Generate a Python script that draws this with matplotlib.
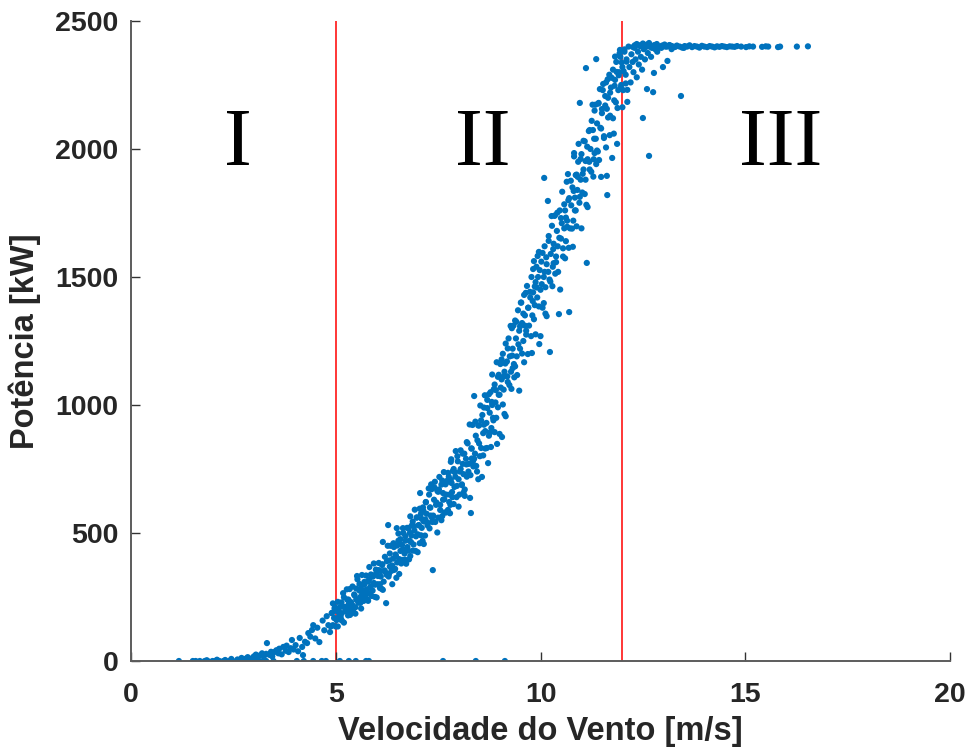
import matplotlib.pyplot as plt
import numpy as np

# wind speed [m/s] / power [kW] samples, split by part of the curve
zero_wind = [1.17, 1.51, 1.58, 1.68, 1.8, 1.87, 1.99, 2.05, 2.16, 2.26, 2.3, 2.4, 2.57,
             2.65, 2.72, 2.85, 2.94, 3.01, 3.1, 3.21, 3.3, 3.48, 4.05, 4.22, 4.45, 4.66,
             4.76, 5.1, 5.32, 5.49, 5.74, 5.81, 7.62, 8.42, 9.13]

low_pts = [(1.85, 3), (2.1, 5), (2.3, 4), (2.45, 8), (2.6, 6), (2.7, 12), (2.8, 9), (2.85, 15),
           (2.95, 10), (3.0, 18), (3.05, 25), (3.1, 14), (3.15, 22), (3.2, 30), (3.25, 20),
           (3.3, 28), (3.32, 70), (3.38, 24), (3.42, 36), (3.45, 18), (3.5, 35), (3.55, 42),
           (3.6, 30), (3.62, 48), (3.68, 26), (3.72, 55), (3.78, 40), (3.8, 60), (3.85, 35),
           (3.9, 50), (3.93, 82), (3.97, 45), (4.02, 62), (4.08, 38), (4.12, 90), (4.18, 55),
           (4.2, 23), (4.25, 75), (4.3, 70), (4.33, 109), (4.38, 95), (4.42, 121), (4.45, 140),
           (4.5, 88), (4.55, 130), (4.6, 74)]

rise_pts = [(4.68, 158), (4.72, 120), (4.78, 175), (4.82, 140), (4.86, 113), (4.9, 187),
            (4.93, 140), (4.97, 205), (5.02, 160), (5.05, 135), (5.08, 190), (5.12, 172),
            (5.15, 187), (5.18, 265), (5.2, 150), (5.23, 211), (5.25, 195), (5.28, 240),
            (5.3, 178), (5.33, 205), (5.35, 180), (5.37, 230), (5.4, 219), (5.42, 195),
            (5.45, 260), (5.48, 210), (5.5, 240), (5.52, 332), (5.55, 228), (5.58, 275),
            (5.6, 250), (5.62, 205), (5.65, 262), (5.68, 235), (5.7, 300), (5.72, 255),
            (5.75, 280), (5.78, 240), (5.8, 310), (5.83, 265), (5.85, 290), (5.88, 330),
            (5.9, 275), (5.93, 305), (5.96, 250), (5.98, 340)]

mid_pts = [(6.02, 300), (6.05, 355), (6.08, 285), (6.1, 330), (6.13, 375), (6.15, 465),
           (6.17, 310), (6.2, 350), (6.23, 226), (6.25, 390), (6.28, 531), (6.3, 340),
           (6.32, 420), (6.35, 370), (6.38, 300), (6.4, 400), (6.42, 445), (6.45, 360),
           (6.47, 410), (6.49, 519), (6.5, 385), (6.53, 470), (6.55, 340), (6.58, 430),
           (6.6, 455), (6.62, 395), (6.65, 500), (6.68, 420), (6.7, 470), (6.72, 380),
           (6.75, 445), (6.78, 520), (6.8, 470), (6.82, 410), (6.85, 490), (6.88, 545),
           (6.9, 455), (6.92, 510), (6.95, 430), (6.98, 560), (7.0, 495), (7.02, 530),
           (7.05, 460), (7.06, 656), (7.08, 575), (7.1, 520), (7.13, 600), (7.15, 545),
           (7.18, 490), (7.2, 620), (7.22, 575), (7.25, 540), (7.28, 650), (7.3, 600),
           (7.33, 690), (7.35, 560), (7.37, 355), (7.4, 630), (7.42, 700), (7.45, 610),
           (7.48, 665)]

upper_mid_pts = [(7.5, 560), (7.52, 670), (7.55, 610), (7.58, 550), (7.6, 705), (7.62, 630),
                 (7.65, 580), (7.68, 690), (7.7, 650), (7.72, 704), (7.74, 590), (7.76, 720),
                 (7.78, 650), (7.8, 610), (7.81, 778), (7.83, 695), (7.85, 640), (7.88, 750),
                 (7.9, 680), (7.92, 720), (7.95, 640), (7.97, 800), (8.0, 710), (8.02, 650),
                 (8.05, 750), (8.08, 690), (8.1, 810), (8.12, 730), (8.15, 670), (8.18, 790),
                 (8.2, 720), (8.22, 850), (8.25, 770), (8.28, 637), (8.3, 578), (8.32, 830),
                 (8.35, 780), (8.38, 1035), (8.4, 810), (8.42, 880), (8.45, 740), (8.48, 920),
                 (8.5, 850), (8.52, 800), (8.55, 940), (8.57, 719), (8.6, 890), (8.62, 990),
                 (8.65, 830), (8.68, 930), (8.7, 1020), (8.72, 773), (8.74, 880), (8.76, 970),
                 (8.78, 1050), (8.8, 910), (8.82, 1000), (8.85, 940), (8.88, 1080), (8.9, 1010),
                 (8.92, 950), (8.94, 848), (8.96, 1110), (8.98, 1040)]

steep_pts = [(9.0, 1040), (9.02, 1160), (9.05, 1100), (9.06, 875), (9.08, 1200), (9.1, 1060),
             (9.12, 1130), (9.15, 1240), (9.18, 1170), (9.2, 1090), (9.22, 1260), (9.25, 1190),
             (9.28, 1130), (9.3, 1300), (9.32, 1220), (9.35, 1160), (9.38, 1330), (9.4, 1260),
             (9.42, 1190), (9.45, 1370), (9.48, 1290), (9.5, 1220), (9.52, 1400), (9.55, 1320),
             (9.58, 1250), (9.6, 1430), (9.62, 1350), (9.65, 1290), (9.67, 1465), (9.7, 1380),
             (9.72, 1310), (9.75, 1420), (9.78, 1500), (9.8, 1350), (9.82, 1440), (9.84, 1562),
             (9.86, 1390), (9.88, 1480), (9.9, 1540), (9.92, 1420), (9.94, 1500), (9.96, 1598),
             (9.97, 1238), (10.0, 1450), (10.02, 1560), (10.05, 1380), (10.08, 1500),
             (10.09, 1887), (10.1, 1620), (10.12, 1460), (10.15, 1550), (10.18, 1797),
             (10.2, 1660), (10.22, 1490), (10.23, 1207), (10.25, 1590), (10.28, 1700),
             (10.3, 1540), (10.32, 1630), (10.35, 1740), (10.38, 1580), (10.4, 1680),
             (10.42, 1620), (10.45, 1355), (10.47, 1760), (10.5, 1650)]

top_pts = [(10.52, 1710), (10.55, 1580), (10.58, 1690), (10.6, 1760), (10.62, 1640),
           (10.65, 1720), (10.67, 1902), (10.68, 1800), (10.7, 1363), (10.72, 1690),
           (10.75, 1780), (10.78, 1850), (10.8, 1720), (10.82, 1984), (10.84, 1810),
           (10.86, 1760), (10.88, 1900), (10.9, 1840), (10.92, 1950), (10.95, 1790),
           (10.96, 2180), (10.98, 1880), (11.0, 1980), (11.02, 1830), (11.05, 1920),
           (11.08, 2030), (11.1, 1880), (11.11, 2316), (11.13, 1555), (11.15, 1960),
           (11.18, 2070), (11.2, 1920), (11.22, 2000), (11.25, 2110), (11.28, 2074),
           (11.3, 1960), (11.32, 2150), (11.35, 2040), (11.36, 2351), (11.38, 2100),
           (11.4, 1990), (11.42, 2180), (11.45, 2234), (11.48, 2080), (11.5, 2140),
           (11.52, 2230), (11.55, 2050), (11.58, 2170), (11.6, 2260), (11.62, 1895),
           (11.63, 1820), (11.65, 2200), (11.68, 2290), (11.7, 2130), (11.72, 2240),
           (11.75, 1965), (11.77, 2310), (11.8, 2190), (11.82, 2270), (11.85, 2340),
           (11.87, 2020), (11.9, 2230), (11.92, 2300), (11.94, 2387), (11.95, 2360),
           (11.97, 2250), (12.0, 2320)]

# second pass over the rising part, read across the full width of the band
band_pts = [
    (4.88, 135), (4.91, 188), (4.93, 225), (4.96, 168), (4.98, 210), (5.0, 135), (5.03, 195),
    (5.05, 231), (5.08, 174), (5.1, 210), (5.12, 163),
    (5.14, 229), (5.15, 158), (5.19, 212), (5.2, 249), (5.24, 201), (5.27, 280), (5.29, 196),
    (5.31, 240), (5.32, 224), (5.34, 281), (5.36, 211),
    (5.38, 224), (5.41, 291), (5.43, 210), (5.46, 256), (5.48, 185), (5.5, 283), (5.53, 319),
    (5.55, 241), (5.58, 301), (5.6, 227), (5.62, 283),
    (5.64, 336), (5.65, 269), (5.69, 237), (5.7, 309), (5.74, 334), (5.77, 263), (5.79, 235),
    (5.81, 317), (5.82, 367), (5.84, 287), (5.86, 338),
    (5.88, 254), (5.91, 330), (5.93, 381), (5.96, 298), (5.98, 357), (6.0, 248), (6.03, 332),
    (6.05, 383), (6.08, 300), (6.1, 351), (6.12, 282),
    (6.14, 378), (6.15, 278), (6.19, 354), (6.2, 407), (6.24, 337), (6.27, 450), (6.29, 330),
    (6.31, 393), (6.32, 369), (6.34, 450), (6.36, 352),
    (6.38, 373), (6.41, 460), (6.43, 356), (6.46, 416), (6.48, 325), (6.5, 451), (6.53, 498),
    (6.55, 398), (6.58, 476), (6.6, 381), (6.62, 453),
    (6.64, 519), (6.65, 435), (6.69, 396), (6.7, 488), (6.74, 520), (6.77, 431), (6.79, 397),
    (6.81, 501), (6.82, 565), (6.84, 464), (6.86, 530),
    (6.88, 431), (6.91, 527), (6.93, 591), (6.96, 487), (6.98, 561), (7.0, 425), (7.03, 531),
    (7.05, 595), (7.08, 491), (7.1, 555), (7.12, 469),
    (7.14, 587), (7.15, 457), (7.19, 553), (7.2, 621), (7.24, 530), (7.27, 674), (7.29, 518),
    (7.31, 599), (7.32, 568), (7.34, 671), (7.36, 543),
    (7.38, 568), (7.41, 678), (7.43, 543), (7.46, 619), (7.48, 502), (7.5, 661), (7.53, 719),
    (7.55, 590), (7.58, 689), (7.6, 566), (7.62, 656),
    (7.64, 738), (7.65, 632), (7.69, 580), (7.7, 697), (7.74, 735), (7.77, 621), (7.79, 577),
    (7.81, 708), (7.82, 788), (7.84, 660), (7.86, 742),
    (7.88, 613), (7.91, 737), (7.93, 820), (7.96, 684), (7.98, 780), (8.0, 603), (8.03, 740),
    (8.05, 823), (8.08, 687), (8.1, 770), (8.12, 658),
    (8.14, 810), (8.15, 645), (8.19, 768), (8.2, 855), (8.24, 740), (8.27, 924), (8.29, 726),
    (8.31, 830), (8.32, 791), (8.34, 922), (8.36, 760),
    (8.38, 790), (8.41, 935), (8.43, 762), (8.46, 862), (8.48, 710), (8.5, 920), (8.53, 998),
    (8.55, 832), (8.58, 961), (8.6, 803), (8.62, 923),
    (8.64, 1038), (8.65, 898), (8.69, 832), (8.7, 988), (8.74, 1042), (8.77, 893), (8.79, 836),
    (8.81, 1012), (8.82, 1119), (8.84, 950), (8.86, 1062),
    (8.88, 894), (8.91, 1058), (8.93, 1167), (8.96, 991), (8.98, 1118), (9.0, 887), (9.03, 1068),
    (9.05, 1178), (9.08, 1002), (9.1, 1111), (9.12, 965),
    (9.14, 1162), (9.15, 956), (9.19, 1112), (9.2, 1221), (9.24, 1078), (9.27, 1309), (9.29, 1063),
    (9.31, 1193), (9.32, 1144), (9.34, 1310), (9.36, 1108),
    (9.38, 1151), (9.41, 1325), (9.43, 1117), (9.46, 1237), (9.48, 1056), (9.5, 1307), (9.53, 1400),
    (9.55, 1201), (9.58, 1357), (9.6, 1167), (9.62, 1310),
    (9.64, 1438), (9.65, 1275), (9.69, 1199), (9.7, 1380), (9.74, 1442), (9.77, 1269), (9.79, 1203),
    (9.81, 1406), (9.82, 1531), (9.84, 1335), (9.86, 1463),
    (9.88, 1276), (9.91, 1459), (9.93, 1582), (9.96, 1385), (9.98, 1527), (10.0, 1269), (10.03, 1472),
    (10.05, 1594), (10.08, 1398), (10.1, 1520), (10.12, 1357),
    (10.14, 1577), (10.15, 1347), (10.19, 1520), (10.2, 1641), (10.24, 1482), (10.27, 1738),
    (10.29, 1464), (10.31, 1609), (10.32, 1554), (10.34, 1739), (10.36, 1513),
    (10.38, 1558), (10.41, 1751), (10.43, 1520), (10.46, 1653), (10.48, 1451), (10.5, 1730),
    (10.53, 1833), (10.55, 1612), (10.58, 1784), (10.6, 1573), (10.62, 1732),
    (10.64, 1872), (10.65, 1696), (10.69, 1614), (10.7, 1808), (10.74, 1876), (10.77, 1689),
    (10.79, 1618), (10.81, 1836), (10.82, 1971), (10.84, 1760), (10.86, 1898),
    (10.88, 1698), (10.91, 1891), (10.93, 2020), (10.96, 1813), (10.98, 1961), (11.0, 1690),
    (11.03, 1903), (11.05, 2032), (11.08, 1824), (11.1, 1953), (11.12, 1782),
    (11.14, 2009), (11.15, 1773), (11.19, 1950), (11.2, 2074), (11.24, 1911), (11.27, 2173),
    (11.29, 1892), (11.31, 2040), (11.32, 1984), (11.34, 2173), (11.36, 1941),
    (11.38, 1994), (11.41, 2177), (11.43, 1957), (11.46, 2083), (11.48, 1891), (11.5, 2156),
    (11.53, 2254), (11.55, 2043), (11.58, 2207), (11.6, 2006), (11.62, 2157),
    (11.64, 2272), (11.65, 2123), (11.69, 2054), (11.7, 2220), (11.74, 2278), (11.77, 2120),
    (11.79, 2060), (11.81, 2247), (11.82, 2361), (11.84, 2182), (11.86, 2301),
    (11.88, 2160), (11.91, 2288), (11.93, 2373), (11.96, 2240), (11.98, 2338), (12.0, 2163),
    (12.03, 2304), (12.05, 2389), (12.08, 2256), (12.1, 2341), (12.12, 2231),
]

knee_pts = [(12.02, 2230), (12.05, 2380), (12.08, 2290), (12.1, 2350), (12.12, 2184),
            (12.15, 2400), (12.17, 2320), (12.2, 2260), (12.22, 2370), (12.25, 2340),
            (12.27, 2300), (12.3, 2395), (12.32, 2350), (12.35, 2280), (12.38, 2380),
            (12.4, 2330), (12.42, 2405), (12.45, 2360), (12.48, 2310), (12.5, 2121),
            (12.52, 2390), (12.55, 2350), (12.58, 2400), (12.6, 2234), (12.62, 2375),
            (12.65, 1973), (12.66, 2400), (12.7, 2360), (12.72, 2395), (12.75, 2222),
            (12.77, 2297), (12.8, 2390), (12.85, 2380), (12.9, 2400), (12.95, 2395),
            (12.99, 2320), (13.05, 2400), (13.1, 2344), (13.15, 2405), (13.2, 2390),
            (13.3, 2400), (13.43, 2207), (13.5, 2395)]

rated_wind = [12.26, 12.3, 12.35, 12.43, 12.5, 12.55, 12.6, 12.65, 12.72, 12.78, 12.84, 12.9,
              12.97, 13.03, 13.09, 13.15, 13.21, 13.27, 13.33, 13.4, 13.46, 13.52, 13.58,
              13.64, 13.7, 13.76, 13.82, 13.88, 13.94, 14.0, 14.07, 14.13, 14.19, 14.25,
              14.31, 14.37, 14.43, 14.49, 14.55, 14.62, 14.68, 14.74, 14.8, 14.9, 15.02,
              15.1, 15.19, 15.41, 15.5, 15.56, 15.8, 15.85, 16.26, 16.53]
rated_power = [2398, 2405, 2410, 2402, 2412, 2396, 2408, 2414, 2400, 2406, 2410, 2398,
               2404, 2408, 2400, 2406, 2402, 2398, 2404, 2400, 2396, 2402, 2400, 2405,
               2398, 2402, 2400, 2396, 2403, 2400, 2398, 2402, 2400, 2397, 2401, 2399,
               2402, 2400, 2398, 2401, 2400, 2399, 2402, 2400, 2398, 2401, 2400, 2399,
               2401, 2400, 2398, 2400, 2400, 2401]

regions = ["I", "II", "III"]
region_x = [2.61, 8.6, 15.87]
region_y = 2015
limits = [5, 12]

curve = (low_pts + rise_pts + mid_pts + upper_mid_pts + steep_pts + top_pts
         + band_pts + knee_pts)
wind = np.array([p[0] for p in curve] + rated_wind + zero_wind)
power = np.array([p[1] for p in curve] + rated_power + [0] * len(zero_wind))

plt.rcParams["font.family"] = ["Liberation Sans", "DejaVu Sans"]

fig = plt.figure(figsize=(9.71, 7.55), dpi=100)
ax = fig.add_axes([0.1349, 0.1245, 0.8435, 0.8477])

for v in limits:
    ax.axvline(v, color="#ff0000", lw=1.1, zorder=1)
ax.scatter(wind, power, s=20, color="#0072BD", edgecolors="none", zorder=2)

for name, x in zip(regions, region_x):
    ax.text(x, region_y, name, family="Liberation Serif", fontsize=60,
            ha="center", va="center", color="black")

ax.set_xlim(0, 20)
ax.set_ylim(0, 2500)
ax.set_xticks([0, 5, 10, 15, 20])
ax.set_yticks([0, 500, 1000, 1500, 2000, 2500])

for side in ["top", "right"]:
    ax.spines[side].set_visible(False)
for side in ["left", "bottom"]:
    ax.spines[side].set_color("#5c5c5c")
    ax.spines[side].set_linewidth(1.4)

ax.tick_params(direction="in", length=6.5, width=1, color="#333333",
               labelsize=20.5, labelcolor="#262626")
ax.tick_params(axis="x", pad=15)
ax.tick_params(axis="y", pad=9)
for lab in ax.get_xticklabels() + ax.get_yticklabels():
    lab.set_fontweight("bold")

ax.set_xlabel("Velocidade do Vento [m/s]", fontsize=23.5, fontweight="bold",
              color="#262626", labelpad=6)
ax.set_ylabel("Potência [kW]", fontsize=23.5, fontweight="bold",
              color="#262626", labelpad=10)

plt.savefig("out.png", dpi=100)
plt.close()
